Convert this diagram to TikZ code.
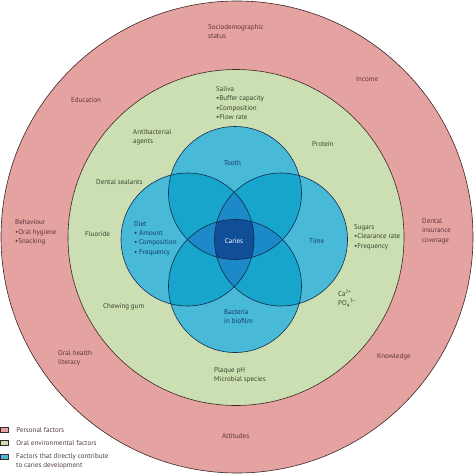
\documentclass[tikz,border=0pt]{standalone}
\usepackage{fontspec}
\setmainfont{PT Sans}
\usetikzlibrary{positioning}
\definecolor{personal}{RGB}{228,162,160}
\definecolor{oralenv}{RGB}{203,223,178}
\definecolor{direct}{RGB}{72,186,215}
\definecolor{directtwo}{RGB}{24,165,204}
\definecolor{directthree}{RGB}{28,138,200}
\definecolor{cariesblue}{RGB}{16,78,152}
\definecolor{rimline}{RGB}{60,38,38}
\definecolor{vennline}{RGB}{18,42,78}
\definecolor{ptext}{RGB}{95,52,58}
\definecolor{gtext}{RGB}{58,68,48}
\definecolor{btext}{RGB}{22,58,105}
\definecolor{ktext}{RGB}{80,62,62}

\begin{document}
\begin{tikzpicture}[x=1pt,y=-1pt,
  lbl/.style={inner sep=0pt,anchor=west,align=left,font=\fontsize{7}{9.3}\selectfont},
  ptxt/.style={lbl,text=ptext},
  gtxt/.style={lbl,text=gtext},
  btxt/.style={lbl,text=btext},
  ktxt/.style={lbl,text=ktext},
  ring/.style={draw=rimline,line width=0.6pt},
  venn/.style={draw=vennline,line width=0.6pt},
  key/.style={draw=rimline,line width=0.4pt,minimum width=8pt,minimum height=5pt,inner sep=0pt}]
  \useasboundingbox (0,0) rectangle (474,474);
  \def\vr{66.5}
  % the two rings
  \coordinate (mid) at (237,237);
  \coordinate (oral) at (236,237.5);
  \fill[personal] (mid) circle (236);
  \draw[ring] (mid) circle (236);
  \fill[oralenv] (oral) circle (168);
  \draw[ring] (oral) circle (168);
  % venn of four
  \coordinate (tooth) at (235,193);
  \coordinate (bact) at (235,286);
  \coordinate (diet) at (187.5,239.5);
  \coordinate (time) at (281,239.5);
  \foreach \c in {tooth,bact,diet,time}
    \fill[direct] (\c) circle (\vr);
  \foreach \a/\b in {tooth/diet,tooth/time,bact/diet,bact/time,tooth/bact,diet/time} {
    \begin{scope}
      \clip (\a) circle (\vr);
      \fill[directtwo] (\b) circle (\vr);
    \end{scope}
  }
  \foreach \a/\b/\c in {tooth/diet/time,tooth/diet/bact,tooth/time/bact,diet/time/bact} {
    \begin{scope}
      \clip (\a) circle (\vr);
      \clip (\b) circle (\vr);
      \fill[directthree] (\c) circle (\vr);
    \end{scope}
  }
  \begin{scope}
    \clip (tooth) circle (\vr);
    \clip (bact) circle (\vr);
    \clip (diet) circle (\vr);
    \fill[cariesblue] (time) circle (\vr);
  \end{scope}
  \foreach \c in {tooth,bact,diet,time}
    \draw[venn] (\c) circle (\vr);

  % personal factors
  \node[ptxt] (socio) at (208,31.5) {Sociodemographic\\status};
  \node[ptxt] (income) at (356,79) {Income};
  \node[ptxt] (educ) at (71,100) {Education};
  \node[ptxt] (behav) at (15,232.5) {Behaviour\\•Oral hygiene\\•Snacking};
  \node[ptxt] (insur) at (422,231) {Dental\\insurance\\coverage};
  \node[ptxt] (liter) at (58,358.5) {Oral health\\literacy};
  \node[ptxt] (knowl) at (377,357) {Knowledge};
  \node[ptxt] (attit) at (222,436) {Attitudes};
  % oral environmental factors
  \node[gtxt] (saliva) at (216,103) {Saliva\\•Buffer capacity\\•Composition\\•Flow rate};
  \node[gtxt] (antib) at (133,137.5) {Antibacterial\\agents};
  \node[gtxt] (prot) at (312,144) {Protein};
  \node[gtxt] (seal) at (96,182) {Dental sealants};
  \node[gtxt] (fluor) at (85,234) {Fluoride};
  \node[gtxt] (sugar) at (354,237) {Sugars\\•Clearance rate\\•Frequency};
  \node[gtxt] (ions) at (338,298.5) {Ca\textsuperscript{2+}\\PO\textsubscript{4}\textsuperscript{3–}};
  \node[gtxt] (gum) at (103,307) {Chewing gum};
  \node[gtxt] (plaque) at (214,375.5) {Plaque pH\\Microbial species};
  % direct factors
  \node[btxt] (toothl) at (224,163) {Tooth};
  \node[btxt] (dietl) at (134,238.5) {Diet\\• Amount\\• Composition\\• Frequency};
  \node[btxt] (timel) at (309,241) {Time};
  \node[btxt] (bactl) at (224,316.5) {Bacteria\\in biofilm};
  \node[lbl,anchor=center,text=white] (caries) at (234,241) {Caries};

  % legend
  \node[key,fill=personal] (kp) at (4,430) {};
  \node[key,fill=oralenv] (ko) at (4,443) {};
  \node[key,fill=direct] (kd) at (4,456.5) {};
  \node[ktxt,right=8pt of kp] (lp) {Personal factors};
  \node[ktxt,right=8pt of ko] (lo) {Oral environmental factors};
  \node[ktxt] (ld) at (16,461.5) {Factors that directly contribute\\to caries development};
\end{tikzpicture}
\end{document}
